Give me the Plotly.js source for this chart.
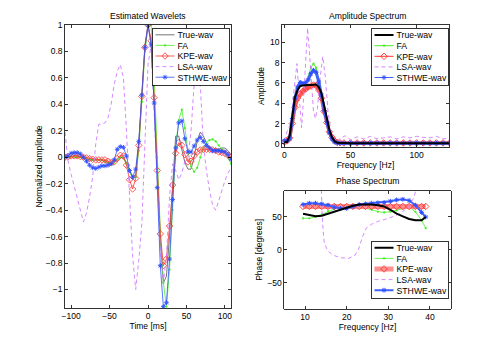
<!DOCTYPE html>
<html>
<head>
<meta charset="utf-8">
<script src="https://cdn.plot.ly/plotly-3.0.1.min.js"></script>
<style>html,body{margin:0;padding:0;background:#fff;} #chart{width:498px;height:348px;}</style>
</head>
<body>
<div id="chart"></div>
<script>
// ---------- Estimated wavelets (time in ms) ----------
var timeMs = [-108,-104,-100,-96,-92,-88,-84,-80,-76,-72,-68,-64,-60,-56,-52,-48,-44,-40,-36,-32,-28,-24,-20,-16,-12,-8,-4,0,4,8,12,16,20,24,28,32,36,40,44,48,52,56,60,64,68,72,76,80,84,88,92,96,100,104,108];
var wavTrue = [0.0,0.005,0.01,0.01,0.01,0.005,0.0,-0.01,-0.02,-0.02,-0.02,-0.02,-0.02,-0.03,-0.04,-0.05,-0.04,-0.02,0.0,0.0,-0.04,-0.1,-0.15,-0.13,0.1,0.48,0.85,1.0,0.88,0.4,-0.15,-0.62,-0.95,-0.9,-0.6,-0.2,0.16,0.16,0.06,-0.04,-0.09,-0.09,0.0,0.12,0.19,0.16,0.11,0.07,0.06,0.06,0.06,0.07,0.07,0.05,0.02];
var wavFA = [0.0,0.0,0.005,0.005,0.0,0.0,-0.005,-0.01,-0.02,-0.02,-0.02,-0.02,-0.02,-0.03,-0.04,-0.05,-0.04,-0.02,0.0,-0.01,-0.05,-0.11,-0.16,-0.15,0.05,0.42,0.8,0.98,1.0,0.6,0.0,-0.55,-0.95,-1.13,-0.85,-0.4,0.08,0.28,0.36,0.22,0.05,-0.07,-0.11,-0.08,0.0,0.07,0.11,0.13,0.135,0.12,0.09,0.06,0.04,0.0,-0.05];
var wavKPE = [0.0,0.005,0.01,0.01,0.01,0.005,0.0,-0.005,-0.01,-0.015,-0.02,-0.02,-0.02,-0.02,-0.03,-0.04,-0.035,-0.01,0.015,0.01,-0.06,-0.17,-0.24,-0.16,0.09,0.46,0.83,1.0,0.88,0.45,-0.1,-0.58,-0.82,-0.77,-0.52,-0.21,0.03,0.11,0.09,0.02,-0.035,-0.03,0.01,0.04,0.055,0.06,0.06,0.06,0.055,0.05,0.04,0.035,0.03,0.015,0.0];
var wavLSA = [0.19,-0.03,-0.13,-0.22,-0.32,-0.42,-0.49,-0.42,-0.3,-0.15,0.1,0.25,0.25,0.26,0.3,0.4,0.55,0.65,0.7,0.6,0.2,-0.3,-0.75,-1.0,-0.78,-0.5,0.1,0.7,0.85,0.3,-0.2,-0.7,-0.95,-0.75,-0.3,-0.05,-0.1,-0.17,-0.12,-0.03,0.0,0.2,0.55,0.75,0.55,0.1,-0.1,-0.25,-0.36,-0.4,-0.33,-0.25,-0.18,-0.12,-0.08];
var wavSTHWE = [0.0,0.01,0.03,0.035,0.035,0.025,0.0,-0.03,-0.06,-0.08,-0.085,-0.075,-0.065,-0.065,-0.06,-0.05,-0.02,0.06,0.08,0.075,0.01,-0.1,-0.15,-0.09,0.12,0.47,0.83,1.0,0.85,0.41,-0.23,-0.82,-1.13,-1.1,-0.77,-0.32,0.07,0.26,0.275,0.14,0.04,0.04,0.085,0.13,0.15,0.12,0.09,0.07,0.05,0.05,0.05,0.045,0.04,0.02,-0.015];

// ---------- Amplitude spectrum (Hz) ----------
var ampFreq = [0,2,4,6,8,10,12,14,16,18,20,22,24,26,28,30,32,34,36,38,40,42,45,50,55,60,65,70,75,80,85,90,95,100,105,110,115,120,125];
var ampTrue = [0.2,0.2,0.8,2.8,4.6,5.3,5.7,5.75,5.8,5.8,5.8,5.85,5.85,5.6,5.0,3.8,2.4,1.4,0.65,0.25,0.12,0.1,0.08,0.08,0.08,0.08,0.08,0.08,0.08,0.08,0.08,0.08,0.08,0.08,0.08,0.08,0.08,0.08,0.08];
var ampFA = [0.2,0.2,0.5,2.5,4.4,5.5,5.9,5.8,5.9,6.6,7.5,7.9,7.5,6.3,5.0,3.6,2.2,1.1,0.5,0.2,0.1,0.08,0.06,0.06,0.06,0.06,0.06,0.06,0.06,0.06,0.06,0.06,0.06,0.06,0.06,0.06,0.06,0.06,0.06];
var ampKPE = [0.2,0.3,0.6,2.0,3.6,4.5,4.9,5.2,5.4,5.6,5.7,5.8,5.75,5.3,4.5,3.2,2.1,1.2,0.65,0.3,0.15,0.12,0.1,0.1,0.1,0.1,0.1,0.1,0.1,0.1,0.1,0.1,0.1,0.1,0.1,0.1,0.1,0.1,0.1];
var ampSTHWE = [0.3,0.3,0.5,2.5,4.5,5.6,6.05,5.95,6.0,6.3,6.9,7.25,7.05,6.1,4.8,3.3,2.2,1.1,0.5,0.2,0.1,0.08,0.08,0.08,0.08,0.08,0.08,0.08,0.08,0.08,0.08,0.08,0.08,0.08,0.08,0.08,0.08,0.08,0.08];
var ampLSAFreq = [0,2,4,5.5,7,8.5,9.5,11,13,15,16.5,17.5,19,20.5,22,23.5,25,27,29,31,33,35,37,40,43,46,50,55,60,65,70,75,80,85,90,95,100,105,110,115,120,125];
var ampLSA = [0.3,1.2,1.8,2.5,5.0,7.2,7.9,5.0,1.6,5.5,9.8,11.4,9.0,5.5,3.2,2.5,3.5,6.5,8.6,6.5,3.2,1.4,0.6,0.3,0.6,0.8,0.4,0.7,0.5,0.75,0.5,0.6,0.7,0.5,0.7,0.6,0.75,0.65,0.6,0.75,0.5,0.55];

// ---------- Phase spectrum (degrees) ----------
var phFreq = [9.5,11,12.5,14,15.5,17,18.5,20,21.5,23,24.5,26,27.5,29,30.5,32,33.5,35,36.5,38,39];
var phTrue = [55,53,51,52,55,58,62,65,67,69,69.5,69,68,66,61,55,51,47,45,45,50];
var phFA = [48,48,50,54,59,62,65,66,66.5,66,64,61,58,57,58,60,63,65,58,45,33];
var phKPE = [66,66,66,66,66,66,66,66,66,66,66,66,66,66,66,66,66,66,66,66,66];
var phSTHWE = [69,71,71,70,68,65,63,63,66,69,70,71,71.5,72,74,76,77,75,68,57,50];
var phLSAFreq = [9.5,11,12.5,13.5,13.9,14.2,14.6,15.5,16.7,18.5,20.5,22,22.8,23.8,24.7,26,27.4,29,31.3,33,35,36,36.5,38,39];
var phLSA = [160,140,115,105,92,40,10,-2,-8,-12,-13,-8,0,20,33,39,43,46,51,56,66,78,89,115,135];

var names = ['True-wav','FA','KPE-wav','LSA-wav','STHWE-wav'];
var cBlack = '#000000', cGreen = '#44ee22', cRed = '#ff3333', cViolet = '#d07cff', cBlue = '#3050ff';
var FONT = 'Liberation Sans, Arial, Helvetica, sans-serif';

var traces = [];
// wavelets
traces.push({x: timeMs, y: wavTrue, xaxis:'x', yaxis:'y', legend:'legend', name:names[0], mode:'lines', line:{color:'#505050', width:0.8}, legendrank:1});
traces.push({x: timeMs, y: wavFA, xaxis:'x', yaxis:'y', legend:'legend', name:names[1], mode:'lines+markers', line:{color:cGreen, width:0.8}, marker:{symbol:'circle', size:2.2, color:cGreen}, legendrank:2});
traces.push({x: timeMs, y: wavKPE, xaxis:'x', yaxis:'y', legend:'legend', name:names[2], mode:'lines+markers', line:{color:cRed, width:0.8}, marker:{symbol:'diamond-open', size:5, color:cRed, line:{width:0.8}}, legendrank:3});
traces.push({x: timeMs, y: wavLSA, xaxis:'x', yaxis:'y', legend:'legend', name:names[3], mode:'lines', line:{color:cViolet, width:0.9, dash:'4px,3px'}, legendrank:4});
traces.push({x: timeMs, y: wavSTHWE, xaxis:'x', yaxis:'y', legend:'legend', name:names[4], mode:'lines+markers', line:{color:cBlue, width:0.8}, marker:{symbol:'asterisk-open', size:4, color:cBlue, line:{width:0.9, color:cBlue}}, legendrank:5});
// amplitude
traces.push({x: ampFreq, y: ampFA, xaxis:'x2', yaxis:'y2', legend:'legend2', name:names[1], mode:'lines+markers', line:{color:cGreen, width:1}, marker:{symbol:'circle', size:2.2, color:cGreen}, legendrank:2});
traces.push({x: ampFreq, y: ampKPE, xaxis:'x2', yaxis:'y2', legend:'legend2', name:names[2], mode:'lines+markers', line:{color:'#ff5a5a', width:3.5}, marker:{symbol:'diamond-open', size:5, color:cRed, line:{width:0.9}}, legendrank:3});
traces.push({x: ampLSAFreq, y: ampLSA, xaxis:'x2', yaxis:'y2', legend:'legend2', name:names[3], mode:'lines', line:{color:cViolet, width:0.9, dash:'4px,3px'}, legendrank:4});
traces.push({x: ampFreq, y: ampSTHWE, xaxis:'x2', yaxis:'y2', legend:'legend2', name:names[4], mode:'lines+markers', line:{color:'#4060ff', width:3}, marker:{symbol:'asterisk-open', size:4, color:cBlue, line:{width:1, color:cBlue}}, legendrank:5});
traces.push({x: ampFreq, y: ampTrue, xaxis:'x2', yaxis:'y2', legend:'legend2', name:names[0], mode:'lines', line:{color:cBlack, width:2}, legendrank:1});
// phase
traces.push({x: phFreq, y: phFA, xaxis:'x3', yaxis:'y3', legend:'legend3', name:names[1], mode:'lines+markers', line:{color:cGreen, width:0.8}, marker:{symbol:'circle', size:2.2, color:cGreen}, legendrank:2});
traces.push({x: phFreq, y: phKPE, xaxis:'x3', yaxis:'y3', legend:'legend3', name:names[2], mode:'lines+markers', line:{color:'#ff9090', width:5}, marker:{symbol:'diamond-open', size:5, color:cRed, line:{width:0.9}}, legendrank:3});
traces.push({x: phLSAFreq, y: phLSA, xaxis:'x3', yaxis:'y3', legend:'legend3', name:names[3], mode:'lines', line:{color:cViolet, width:0.9, dash:'4px,3px'}, legendrank:4});
traces.push({x: phFreq, y: phSTHWE, xaxis:'x3', yaxis:'y3', legend:'legend3', name:names[4], mode:'lines+markers', line:{color:'#4060ff', width:2}, marker:{symbol:'asterisk-open', size:4, color:cBlue, line:{width:1, color:cBlue}}, legendrank:5});
traces.push({x: phFreq, y: phTrue, xaxis:'x3', yaxis:'y3', legend:'legend3', name:names[0], mode:'lines', line:{color:cBlack, width:2}, legendrank:1});

function axStyle(extra) {
  var a = {showline:true, mirror:'ticks', ticks:'inside', ticklen:3, tickwidth:0.8, tickcolor:'#000', linecolor:'#000', linewidth:0.8,
           showgrid:false, zeroline:false, tickfont:{family:FONT, size:8.5, color:'#000'}, automargin:false};
  for (var k in extra) a[k] = extra[k];
  return a;
}
function ttl(t, s) { return {text:t, font:{family:FONT, size:8.5, color:'#000'}, standoff:s}; }
function legendBox(x, y) {
  return {x:x, y:y, xanchor:'left', yanchor:'top', xref:'paper', yref:'paper', bgcolor:'#fff', bordercolor:'#000', borderwidth:0.8,
          font:{family:FONT, size:8.7, color:'#000'}, itemclick:false, tracegroupgap:0};
}

var layout = {
  width:498, height:348, margin:{l:0, r:0, t:0, b:0, pad:0},
  paper_bgcolor:'#fff', plot_bgcolor:'#fff', showlegend:true,
  font:{family:FONT, size:8.5, color:'#000'},
  xaxis: axStyle({domain:[0.1305,0.4639], anchor:'y', range:[-108,108], tickvals:[-100,-50,0,50,100], title:ttl('Time [ms]',1)}),
  yaxis: axStyle({domain:[0.1149,0.9282], anchor:'x', range:[-1.14,1.0], tickvals:[-1,-0.8,-0.6,-0.4,-0.2,0,0.2,0.4,0.6,0.8,1], title:ttl('Normalized amplitude',1)}),
  xaxis2: axStyle({domain:[0.5663,0.9016], anchor:'y2', range:[-1.8,124.5], tickvals:[0,50,100], title:ttl('Frequency [Hz]',1)}),
  yaxis2: axStyle({domain:[0.5776,0.9282], anchor:'x2', range:[-0.3,11.7], tickvals:[0,2,4,6,8,10], title:ttl('Amplitude',3)}),
  xaxis3: axStyle({domain:[0.5709,0.905], anchor:'y3', range:[5,45], tickvals:[10,20,30,40], title:ttl('Frequency [Hz]',1)}),
  yaxis3: axStyle({domain:[0.1121,0.452], anchor:'x3', range:[-90,90], tickvals:[-50,0,50], title:ttl('Phase [degrees]',3)}),
  legend: legendBox(0.3046, 0.9195),
  legend2: legendBox(0.7444, 0.9187),
  legend3: legendBox(0.7444, 0.3075),
  annotations: [
    {text:'Estimated Wavelets', x:0.2975, y:0.9549, xref:'paper', yref:'paper', xanchor:'center', yanchor:'middle', showarrow:false, font:{family:FONT, size:8.6, color:'#000'}},
    {text:'Amplitude Spectrum', x:0.738, y:0.9549, xref:'paper', yref:'paper', xanchor:'center', yanchor:'middle', showarrow:false, font:{family:FONT, size:8.6, color:'#000'}},
    {text:'Phase Spectrum', x:0.738, y:0.4807, xref:'paper', yref:'paper', xanchor:'center', yanchor:'middle', showarrow:false, font:{family:FONT, size:8.6, color:'#000'}}
  ]
};

// Compact the legend boxes to MATLAB-like spacing (Plotly enforces a 19px minimum row height).
function compactLegends() {
  var gd = document.getElementById('chart');
  gd.querySelectorAll('g.legend, g.legend2, g.legend3').forEach(function(lg) {
    try {
      var isAmp = (lg.getAttribute('class') || '').split(/\s+/).indexOf('legend2') >= 0;
      var items = lg.querySelectorAll('g.traces');
      var rowH = 10.6, top = 1.5, textX = 25, maxW = 0;
      items.forEach(function(it, i) {
        var tr = it.getAttribute('transform') || '';
        var m = tr.match(/translate\(\s*([-\d.e]+)[\s,]+([-\d.e]+)\s*\)/);
        var x = m ? parseFloat(m[1]) : 0;
        it.setAttribute('transform', 'translate(' + x + ',' + (top + rowH / 2 + i * rowH) + ')');
        it.querySelectorAll('text').forEach(function(txt) {
          txt.setAttribute('x', textX);
          txt.querySelectorAll('tspan').forEach(function(s){ if (s.getAttribute('x') !== null) s.setAttribute('x', textX); });
          maxW = Math.max(maxW, txt.getComputedTextLength());
        });
        it.querySelectorAll('g.layers path').forEach(function(p) {
          var d = p.getAttribute('d') || '';
          if (/^M[\d.]+,0h[\d.]+$/.test(d)) {
            p.setAttribute('d', 'M3,0h19');
            var sw = parseFloat(p.style.strokeWidth);
            if (isAmp && sw > 2.1) p.style.strokeWidth = '1.2px';
          }
          var t = p.getAttribute('transform') || '';
          if (t.indexOf('translate') >= 0) p.setAttribute('transform', 'translate(12.5,0)');
        });
      });
      var bg = lg.querySelector('rect.bg');
      if (bg && items.length) {
        bg.setAttribute('width', textX + maxW + 3);
        bg.setAttribute('height', items.length * rowH + 2 * top + 1);
      }
    } catch (e) {}
  });
}

Plotly.newPlot('chart', traces, layout, {staticPlot:true, displayModeBar:false}).then(compactLegends);
</script>
</body>
</html>
